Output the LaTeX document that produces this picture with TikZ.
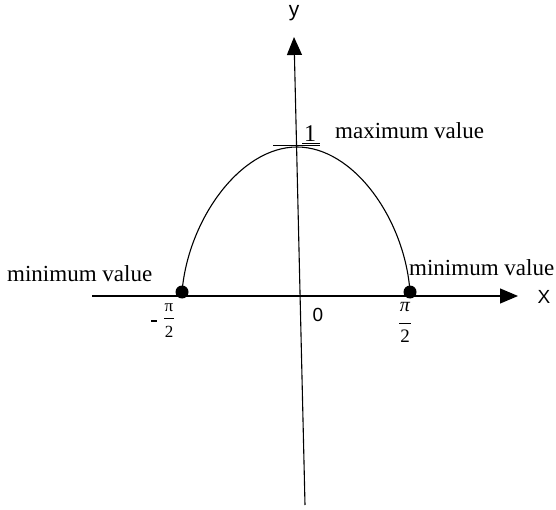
\documentclass[tikz,border=0pt]{standalone}
\usepackage{fontspec}
\setmainfont{Liberation Serif}
\newfontfamily\axfont{Liberation Sans}
\usetikzlibrary{arrows.meta}
\begin{document}
\begin{tikzpicture}[x=1pt,y=-1pt,
  axis/.style={line width=1.1pt,-{Triangle[length=18pt,width=15pt]}},
  lbl/.style={font=\fontsize{23}{26}\selectfont,inner sep=0pt},
  axlbl/.style={font=\axfont\fontsize{20}{22}\selectfont,inner sep=0pt},
  dot/.style={circle,fill=black,inner sep=0pt,minimum size=13pt},
  barline/.style={line width=0.9pt}]
\useasboundingbox (0,0) rectangle (556,510);
% axes
\coordinate (ybot) at (305,505);
\coordinate (ytop) at (294,37);
\coordinate (xl) at (92,296);
\coordinate (xr) at (518,296);
\draw[axis] (ybot) -- (ytop);
\draw[axis] (xl) -- (xr);
\node[axlbl,font=\axfont\fontsize{21}{24}\selectfont] (ylab) at (294,13) {y};
\node[axlbl,font=\axfont\fontsize{19}{22}\selectfont] (xlab) at (544,297) {X};
\node[axlbl,font=\axfont\fontsize{19}{22}\selectfont] (zero) at (318,315) {0};
% curve
\node[dot] (pl) at (182,292) {};
\node[dot] (pr) at (410,292) {};
\coordinate (top) at (297,147);
\draw[line width=1.1pt] (pl.center) .. controls (188,220) and (240,147) .. (top)
  .. controls (354,147) and (405,220) .. (pr.center);
% tick at 1
\coordinate (t1) at (273,146);
\coordinate (t2) at (320,146);
\draw[line width=1pt] (t1) -- (t2);
\coordinate (u1) at (302,143.5);
\coordinate (u2) at (320,143.5);
\draw[line width=0.6pt] (u1) -- (u2);
\node[lbl,font=\fontsize{24}{26}\selectfont,anchor=base] (one) at (310,142) {1};
\node[lbl,anchor=base west] (maxv) at (335,139) {maximum value};
\node[lbl,anchor=base west] (minl) at (7,282) {minimum value};
\node[lbl,anchor=base west] (minr) at (409,276) {minimum value};
% right fraction
\node[inner sep=0pt,font=\fontsize{20}{22}\selectfont] (pir) at (405,307) {\itshape π};
\coordinate (br1) at (399,323);
\coordinate (br2) at (411,323);
\draw[barline] (br1) -- (br2);
\node[inner sep=0pt,font=\fontsize{19}{22}\selectfont] (twor) at (405,336) {2};
% left fraction
\node[inner sep=0pt,font=\fontsize{17}{20}\selectfont] (pil) at (169,308) {π};
\coordinate (bl1) at (164,318);
\coordinate (bl2) at (174,318);
\draw[barline] (bl1) -- (bl2);
\node[inner sep=0pt,font=\fontsize{17}{20}\selectfont] (twol) at (169,332) {2};
\coordinate (m1) at (151,321);
\coordinate (m2) at (157,321);
\draw[line width=1.1pt] (m1) -- (m2);
\end{tikzpicture}
\end{document}
